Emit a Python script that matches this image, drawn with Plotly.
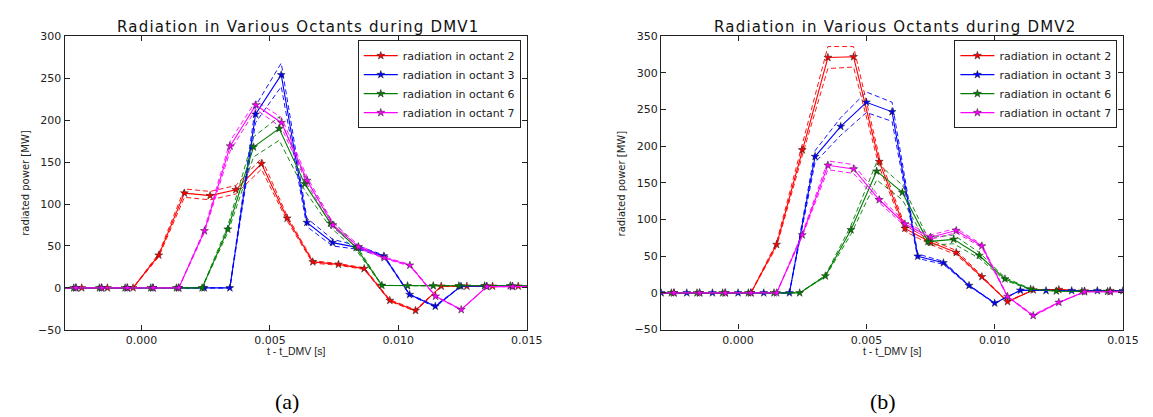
import plotly.graph_objects as go

# ---------------- DMV1 (a) ----------------
t1_oct2 = [-0.00333, -0.00233, -0.00133, -0.00033, 0.00067, 0.00167, 0.00267, 0.00367, 0.00467, 0.00567,
           0.00667, 0.00767, 0.00867, 0.00967, 0.01067, 0.01167, 0.01267, 0.01367, 0.01467, 0.01567]
p1_oct2 = [0, 0, 0, 0, 39, 113, 110, 117, 148, 83, 31, 28, 23, -15, -27, 2, 2, 2, 2, 2]
e1_oct2 = [0, 0, 0, 0, 2, 5, 5, 5, 6.5, 3, 1.5, 1, 1, 1, 1, 0, 0, 0, 0, 0]

t1_oct3 = [-0.00356, -0.00256, -0.00156, -0.00056, 0.00044, 0.00144, 0.00244, 0.00344, 0.00444, 0.00544,
           0.00644, 0.00744, 0.00844, 0.00944, 0.01044, 0.01144, 0.01244, 0.01344, 0.01444, 0.01544]
p1_oct3 = [0, 0, 0, 0, 0, 0, 0, 0, 207, 254, 78, 54, 48, 38, -8, -22, 2, 2, 2, 2]
e1_oct3 = [0, 0, 0, 0, 0, 0, 0, 0, 10, 14, 5, 4, 2, 1, 0.5, 1, 0, 0, 0, 0]

t1_oct6 = [-0.00364, -0.00264, -0.00164, -0.00064, 0.00036, 0.00136, 0.00236, 0.00336, 0.00436, 0.00536,
           0.00636, 0.00736, 0.00836, 0.00936, 0.01036, 0.01136, 0.01236, 0.01336, 0.01436, 0.01536]
p1_oct6 = [0, 0, 0, 0, 0, 0, 0, 70, 168, 190, 124, 77, 48, 3, 2.5, 2.5, 2.5, 2.5, 2.5, 2.5]
e1_oct6 = [0, 0, 0, 0, 0, 0, 0, 4, 12, 14, 8, 5, 3, 0, 0, 0, 0, 0, 0, 0]

t1_oct7 = [-0.00355, -0.00255, -0.00155, -0.00055, 0.00045, 0.00145, 0.00245, 0.00345, 0.00445, 0.00545,
           0.00645, 0.00745, 0.00845, 0.00945, 0.01045, 0.01145, 0.01245, 0.01345, 0.01445, 0.01545]
p1_oct7 = [0, 0, 0, 0, 0, 0, 68, 169, 218, 197, 128, 75, 49, 36, 27, -10, -26, 1.5, 1.5, 1.5]
e1_oct7 = [0, 0, 0, 0, 0, 0, 2, 6, 5, 6, 4, 3, 2, 1, 1, 0.5, 0.5, 0, 0, 0]

# ---------------- DMV2 (b) ----------------
t2_oct2 = [-0.0035, -0.0025, -0.0015, -0.0005, 0.0005, 0.0015, 0.0025, 0.0035, 0.0045, 0.0055,
           0.0065, 0.0075, 0.0085, 0.0095, 0.0105, 0.0115, 0.0125, 0.0135, 0.0145, 0.0155]
p2_oct2 = [0, 0, 0, 0, 0, 66, 195, 321, 322, 179, 88, 69, 55, 22, -12, 4, 4.5, 2.5, 3, 3]
e2_oct2 = [0, 0, 0, 0, 0, 3, 8, 15, 14, 7, 4, 3, 3, 1, 0.5, 0, 0, 0, 0, 0]

t2_oct3 = [-0.003, -0.002, -0.001, 0.0, 0.001, 0.002, 0.003, 0.004, 0.005, 0.006,
           0.007, 0.008, 0.009, 0.010, 0.011, 0.012, 0.013, 0.014, 0.015, 0.016]
p2_oct3 = [0, 0, 0, 0, 0, 0, 186, 227, 260, 247, 50, 41, 10, -14, 3.5, 3, 3, 3, 3, 3]
e2_oct3 = [0, 0, 0, 0, 0, 0, 8, 12, 14, 13, 3, 2, 0.5, 0.5, 0, 0, 0, 0, 0, 0]

t2_oct6 = [-0.0036, -0.0026, -0.0016, -0.0006, 0.0004, 0.0014, 0.0024, 0.0034, 0.0044, 0.0054,
           0.0064, 0.0074, 0.0084, 0.0094, 0.0104, 0.0114, 0.0124, 0.0134, 0.0144, 0.0154]
p2_oct6 = [0, 0, 0, 0, 0, 0, 0, 23, 86, 166, 137, 70, 73, 51, 19, 5, 2.5, 2, 2, 2]
e2_oct6 = [0, 0, 0, 0, 0, 0, 0, 1, 6, 12, 10, 5, 6, 4, 2, 0.5, 0, 0, 0, 0]

t2_oct7 = [-0.0035, -0.0025, -0.0015, -0.0005, 0.0005, 0.0015, 0.0025, 0.0035, 0.0045, 0.0055,
           0.0065, 0.0075, 0.0085, 0.0095, 0.0105, 0.0115, 0.0125, 0.0135, 0.0145, 0.0155]
p2_oct7 = [0, 0, 0, 0, 0, 0, 79, 174, 169, 127, 94, 76, 85, 64, -5, -31, -13, 1.5, 1.5, 1.5]
e2_oct7 = [0, 0, 0, 0, 0, 0, 2, 6, 6, 4, 3, 3, 3, 2, 0.5, 1, 0.5, 0, 0, 0]

series_names = ["radiation in octant 2", "radiation in octant 3", "radiation in octant 6", "radiation in octant 7"]
colors = ["#ff0000", "#0000ff", "#008000", "#ff00ff"]
titles = ["Radiation in Various Octants during DMV1", "Radiation in Various Octants during DMV2"]
captions = ["(a)", "(b)"]

panels = [
    ("x", "y", "legend", [(t1_oct2, p1_oct2, e1_oct2), (t1_oct3, p1_oct3, e1_oct3),
                          (t1_oct6, p1_oct6, e1_oct6), (t1_oct7, p1_oct7, e1_oct7)]),
    ("x2", "y2", "legend2", [(t2_oct2, p2_oct2, e2_oct2), (t2_oct3, p2_oct3, e2_oct3),
                             (t2_oct6, p2_oct6, e2_oct6), (t2_oct7, p2_oct7, e2_oct7)]),
]

fig = go.Figure()
for xa, ya, lg, data in panels:
    for (t, p, e), name, col in zip(data, series_names, colors):
        up = [v + d for v, d in zip(p, e)]
        lo = [v - d for v, d in zip(p, e)]
        for band in (up, lo):
            fig.add_trace(go.Scatter(x=t, y=band, xaxis=xa, yaxis=ya, mode="lines",
                                     line=dict(color=col, width=1, dash="5px,3px"),
                                     opacity=0.9, showlegend=False, hoverinfo="skip"))
    for (t, p, e), name, col in zip(data, series_names, colors):
        fig.add_trace(go.Scatter(x=t, y=p, xaxis=xa, yaxis=ya, mode="lines+markers", name=name,
                                 legend=lg,
                                 line=dict(color=col, width=1.1),
                                 marker=dict(symbol="star", size=6, color=col,
                                             line=dict(color="#202020", width=0.5))))

W, H = 1153, 417
font = "DejaVu Sans"
axis_common = dict(showline=True, linecolor="#222", linewidth=1.3, mirror="ticks",
                   ticks="inside", ticklen=5, tickcolor="#222", tickwidth=1,
                   showgrid=False, zeroline=False,
                   tickfont=dict(family=font, size=11, color="#222"))
xticks = [0.0, 0.005, 0.010, 0.015]

fig.update_layout(
    width=W, height=H,
    margin=dict(l=0, r=0, t=0, b=0),
    paper_bgcolor="white", plot_bgcolor="white",
    showlegend=True,
    xaxis=dict(domain=[57.3 / W, 526 / W], range=[-0.003, 0.015], tickvals=xticks,
               tickformat=".3f", anchor="y", **axis_common),
    yaxis=dict(domain=[(H - 326) / H, (H - 23) / H], range=[-50, 300], dtick=50,
               anchor="x", **axis_common),
    xaxis2=dict(domain=[662.3 / W, 1130.7 / W], range=[-0.003, 0.015], tickvals=xticks,
                tickformat=".3f", anchor="y2", **axis_common),
    yaxis2=dict(domain=[(H - 325.7) / H, (H - 23) / H], range=[-50, 350], dtick=50,
                anchor="x2", **axis_common),
    legend=dict(x=520 / W, y=(H - 27) / H, xanchor="right", yanchor="top",
                bgcolor="white", bordercolor="#222", borderwidth=1, itemwidth=34,
                font=dict(family=font, size=11, color="#222"), tracegroupgap=0),
    legend2=dict(x=1125 / W, y=(H - 27) / H, xanchor="right", yanchor="top",
                 bgcolor="white", bordercolor="#222", borderwidth=1, itemwidth=34,
                 font=dict(family=font, size=11, color="#222"), tracegroupgap=0),
)

ann = []
centers = [(57.3 + 526) / 2, (662.3 + 1130.7) / 2]
for cx, title in zip(centers, titles):
    ann.append(dict(x=(cx + 3) / W, y=(H - 13) / H, xref="paper", yref="paper",
                    text=f'<span style="letter-spacing:1.2px">{title}</span>',
                    showarrow=False, xanchor="center", yanchor="middle",
                    font=dict(family=font, size=15, color="#111")))
for cx in centers:
    ann.append(dict(x=cx / W, y=(H - 348) / H, xref="paper", yref="paper", text="t - t_DMV [s]",
                    showarrow=False, xanchor="center", yanchor="middle",
                    font=dict(family="Liberation Sans", size=10.5, color="#222")))
for cx in [17, 622]:
    ann.append(dict(x=cx / W, y=(H - 174.5) / H, xref="paper", yref="paper",
                    text="radiated power [MW]", textangle=-90,
                    showarrow=False, xanchor="center", yanchor="middle",
                    font=dict(family=font, size=10, color="#222")))
for cx, lab in zip([283, 887], captions):
    ann.append(dict(x=cx / W, y=(H - 400) / H, xref="paper", yref="paper", text=lab,
                    showarrow=False, xanchor="center", yanchor="middle",
                    font=dict(family="Liberation Serif", size=22, color="#000")))
fig.update_layout(annotations=ann)

fig.write_html("out.html")
